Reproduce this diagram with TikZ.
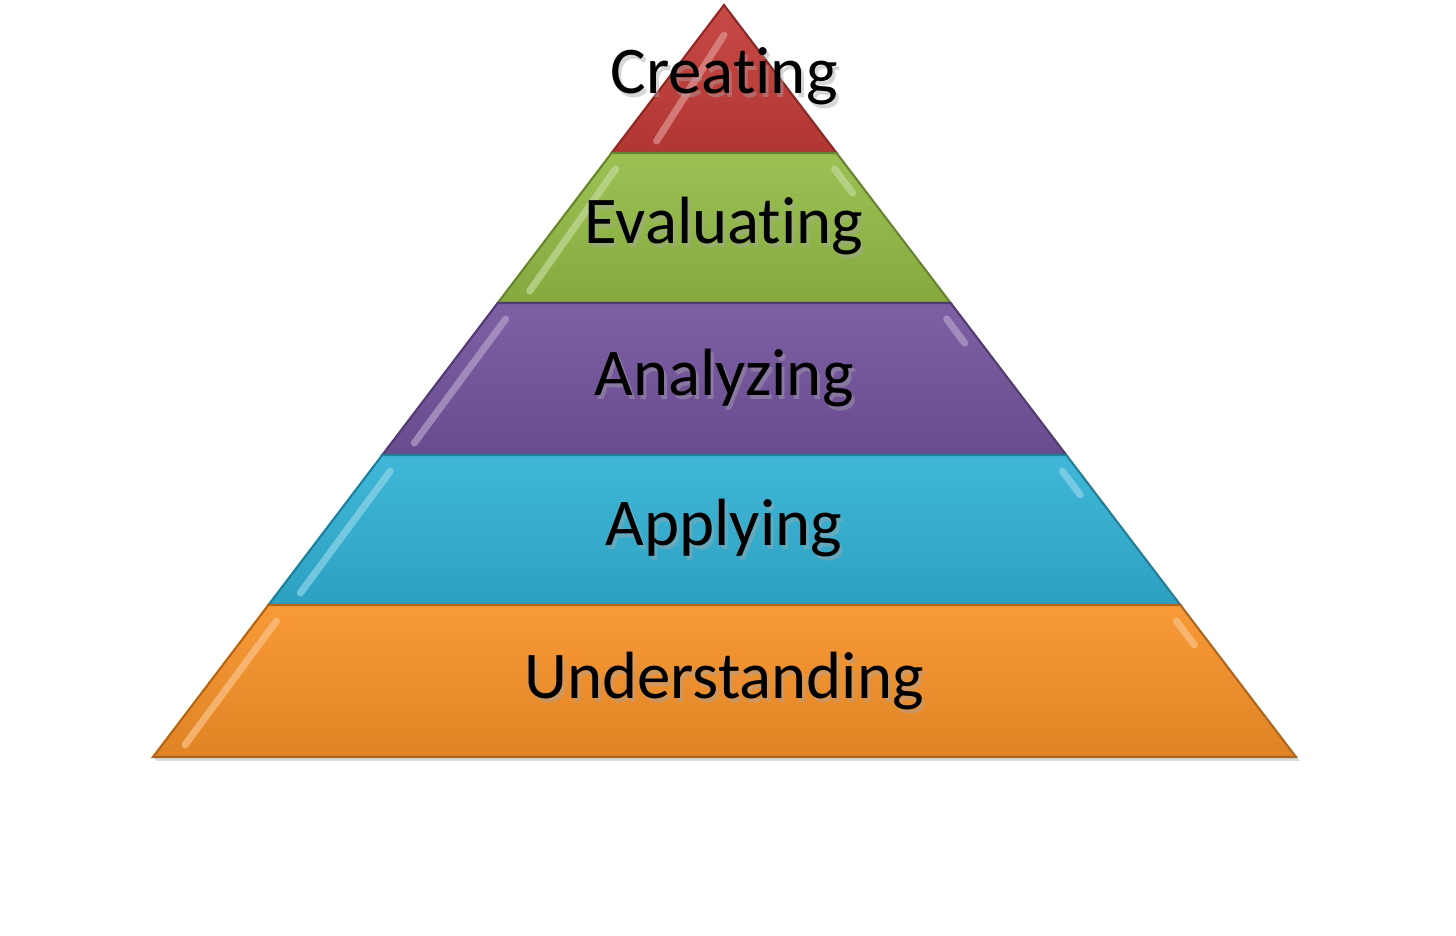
\documentclass[tikz,border=0pt]{standalone}
\usepackage{fontspec}
\setmainfont[Ligatures={NoCommon}]{Carlito}
\usepackage{tikz}
\usetikzlibrary{calc,positioning}

\definecolor{crRed}{RGB}{196,60,56}
\definecolor{evGreen}{RGB}{148,188,70}
\definecolor{anPurple}{RGB}{116,84,158}
\definecolor{apBlue}{RGB}{50,178,214}
\definecolor{unOrange}{RGB}{248,146,40}

\tikzset{
  layer/.style={draw=#1!70!black,line width=0.6pt,top color=#1!93!white,bottom color=#1!90!black},
  bevel/.style={line width=2pt,line cap=round,draw=#1!55!white,opacity=0.7},
  lbl/.style={font=\fontsize{19}{23}\selectfont,text=black},
  lblshadow/.style={font=\fontsize{19}{23}\selectfont,text=black!35,opacity=0.45}
}

\begin{document}
\begin{tikzpicture}[x=0.01cm,y=0.01cm]
\useasboundingbox (0,0) rectangle (1456,936);
\fill[white] (0,0) rectangle (1456,936);

% corners of the pyramid
\coordinate (apex) at (724,931);
\coordinate (bl) at (153,179);
\coordinate (br) at (1296,179);
\foreach \i/\t in {1/0.1968,2/0.3963,3/0.5984,4/0.7979}{
  \coordinate (l\i) at ($(apex)!\t!(bl)$);
  \coordinate (r\i) at ($(apex)!\t!(br)$);
}

% soft shadow under the base
\fill[black!15] ($(bl)+(4,-4)$) -- ($(br)+(4,-4)$) -- (br) -- (bl) -- cycle;

% Creating
\path[layer=crRed] (apex) -- (r1) -- (l1) -- cycle;
\draw[bevel=crRed] ($(apex)+(0,-30)$) -- ($(l1)+(45,12)$);
% Evaluating
\path[layer=evGreen] (l1) -- (r1) -- (r2) -- (l2) -- cycle;
\draw[bevel=evGreen] ($(l1)+(4,-16)$) -- ($(l2)+(32,12)$);
\draw[bevel=evGreen] ($(r1)+(-2,-16)$) -- ($(r1)+(16,-40)$);
% Analyzing
\path[layer=anPurple] (l2) -- (r2) -- (r3) -- (l3) -- cycle;
\draw[bevel=anPurple] ($(l2)+(8,-16)$) -- ($(l3)+(32,12)$);
\draw[bevel=anPurple] ($(r2)+(-4,-16)$) -- ($(r2)+(14,-40)$);
% Applying
\path[layer=apBlue] (l3) -- (r3) -- (r4) -- (l4) -- cycle;
\draw[bevel=apBlue] ($(l3)+(8,-16)$) -- ($(l4)+(32,12)$);
\draw[bevel=apBlue] ($(r3)+(-4,-16)$) -- ($(r3)+(14,-40)$);
% Understanding
\path[layer=unOrange] (l4) -- (r4) -- (br) -- (bl) -- cycle;
\draw[bevel=unOrange] ($(l4)+(8,-16)$) -- ($(bl)+(32,12)$);
\draw[bevel=unOrange] ($(r4)+(-4,-16)$) -- ($(r4)+(14,-40)$);

% labels
\foreach \n/\txt/\y in {cre/Creating/860,eva/Evaluating/710,ana/Analyzing/558,app/Applying/408,und/Understanding/255}{
  \node[lblshadow] at (727,\y-4) {\txt};
  \node[lbl] (\n) at (724,\y) {\txt};
}
\end{tikzpicture}
\end{document}
